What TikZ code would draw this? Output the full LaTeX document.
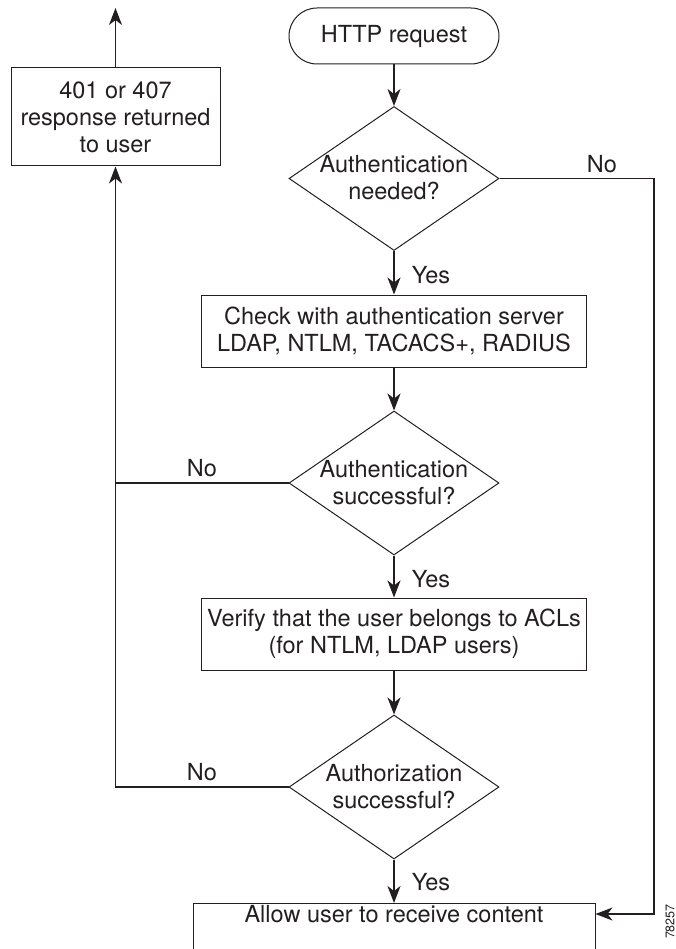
\documentclass[tikz,border=0pt]{standalone}
\usepackage{fontspec}
\setmainfont{TeX Gyre Heros}
\usetikzlibrary{arrows.meta,shapes.geometric}

\definecolor{ink}{HTML}{231F20}

\tikzset{
  txt/.style={font=\fontsize{23.5}{27}\selectfont, text=ink, align=center, inner sep=0pt},
  box/.style={txt, draw=ink, line width=1pt, rectangle},
  terminal/.style={box, rounded corners=28pt, minimum width=210pt, minimum height=56pt},
  decision/.style={draw=ink, line width=1pt, diamond, inner sep=0pt,
                   minimum width=210pt, minimum height=144pt},
  conn/.style={draw=ink, line width=1.3pt},
  arr/.style={conn, -{Stealth[length=17pt, width=13pt, inset=5pt]}},
}

\begin{document}
\begin{tikzpicture}[x=1pt, y=-1pt]
  \useasboundingbox (0,0) rectangle (676,949);
  \clip (0,0) rectangle (676,949);

  % main column
  \node[terminal] (http) at (394,36) {HTTP request};

  \node[decision] (d1) at (394,178.5) {};
  \node[txt] (d1t) at (394,178) {Authentication\\needed?};

  \node[box, minimum width=385pt, minimum height=72pt] (chk) at (394,331)
    {Check with authentication server\\LDAP, NTLM, TACACS+, RADIUS};

  \node[decision] (d2) at (394,483) {};
  \node[txt] (d2t) at (394,483) {Authentication\\successful?};

  \node[box, minimum width=385pt, minimum height=72pt] (ver) at (394,634)
    {Verify that the user belongs to ACLs\\(for NTLM, LDAP users)};

  \node[decision] (d3) at (394,787) {};
  \node[txt] (d3t) at (394,787) {Authorization\\successful?};

  \node[box, anchor=north, minimum width=402pt, minimum height=90pt] (allow) at (394,903) {};
  \node[txt] (allowt) at (394,914) {Allow user to receive content};

  % rejection box
  \node[box, minimum width=209pt, minimum height=98pt] (deny) at (115.5,117)
    {401 or 407\\response returned\\to user};
  \coordinate (out) at (115.5,8);
  \coordinate (rt) at (654,0);

  % connectors
  \draw[arr] (http.south) -- (d1.north);
  \draw[arr] (d1.south) -- (chk.north);
  \draw[arr] (chk.south) -- (d2.north);
  \draw[arr] (d2.south) -- (ver.north);
  \draw[arr] (ver.south) -- (d3.north);
  \draw[arr] (d3.south) -- (allow.north);

  \draw[arr] (d1.east) -| (rt |- allowt) -- (allow.east |- allowt);
  \draw[arr] (d3.west) -| (deny.south);
  \draw[conn] (d2.west) -- (d2.west -| deny.south);
  \draw[arr] (deny.north) -- (out);

  % branch labels
  \node[txt] (n1) at (602,164) {No};
  \node[txt] (y1) at (431,275) {Yes};
  \node[txt] (n2) at (202,468) {No};
  \node[txt] (y2) at (431,579) {Yes};
  \node[txt] (n3) at (202,772) {No};
  \node[txt] (y3) at (431,882) {Yes};

  % figure number
  \node[font=\fontsize{12.5}{12.5}\selectfont, text=ink, rotate=90, anchor=east, inner sep=0pt]
    (fig) at (670,904) {78257};
\end{tikzpicture}
\end{document}
